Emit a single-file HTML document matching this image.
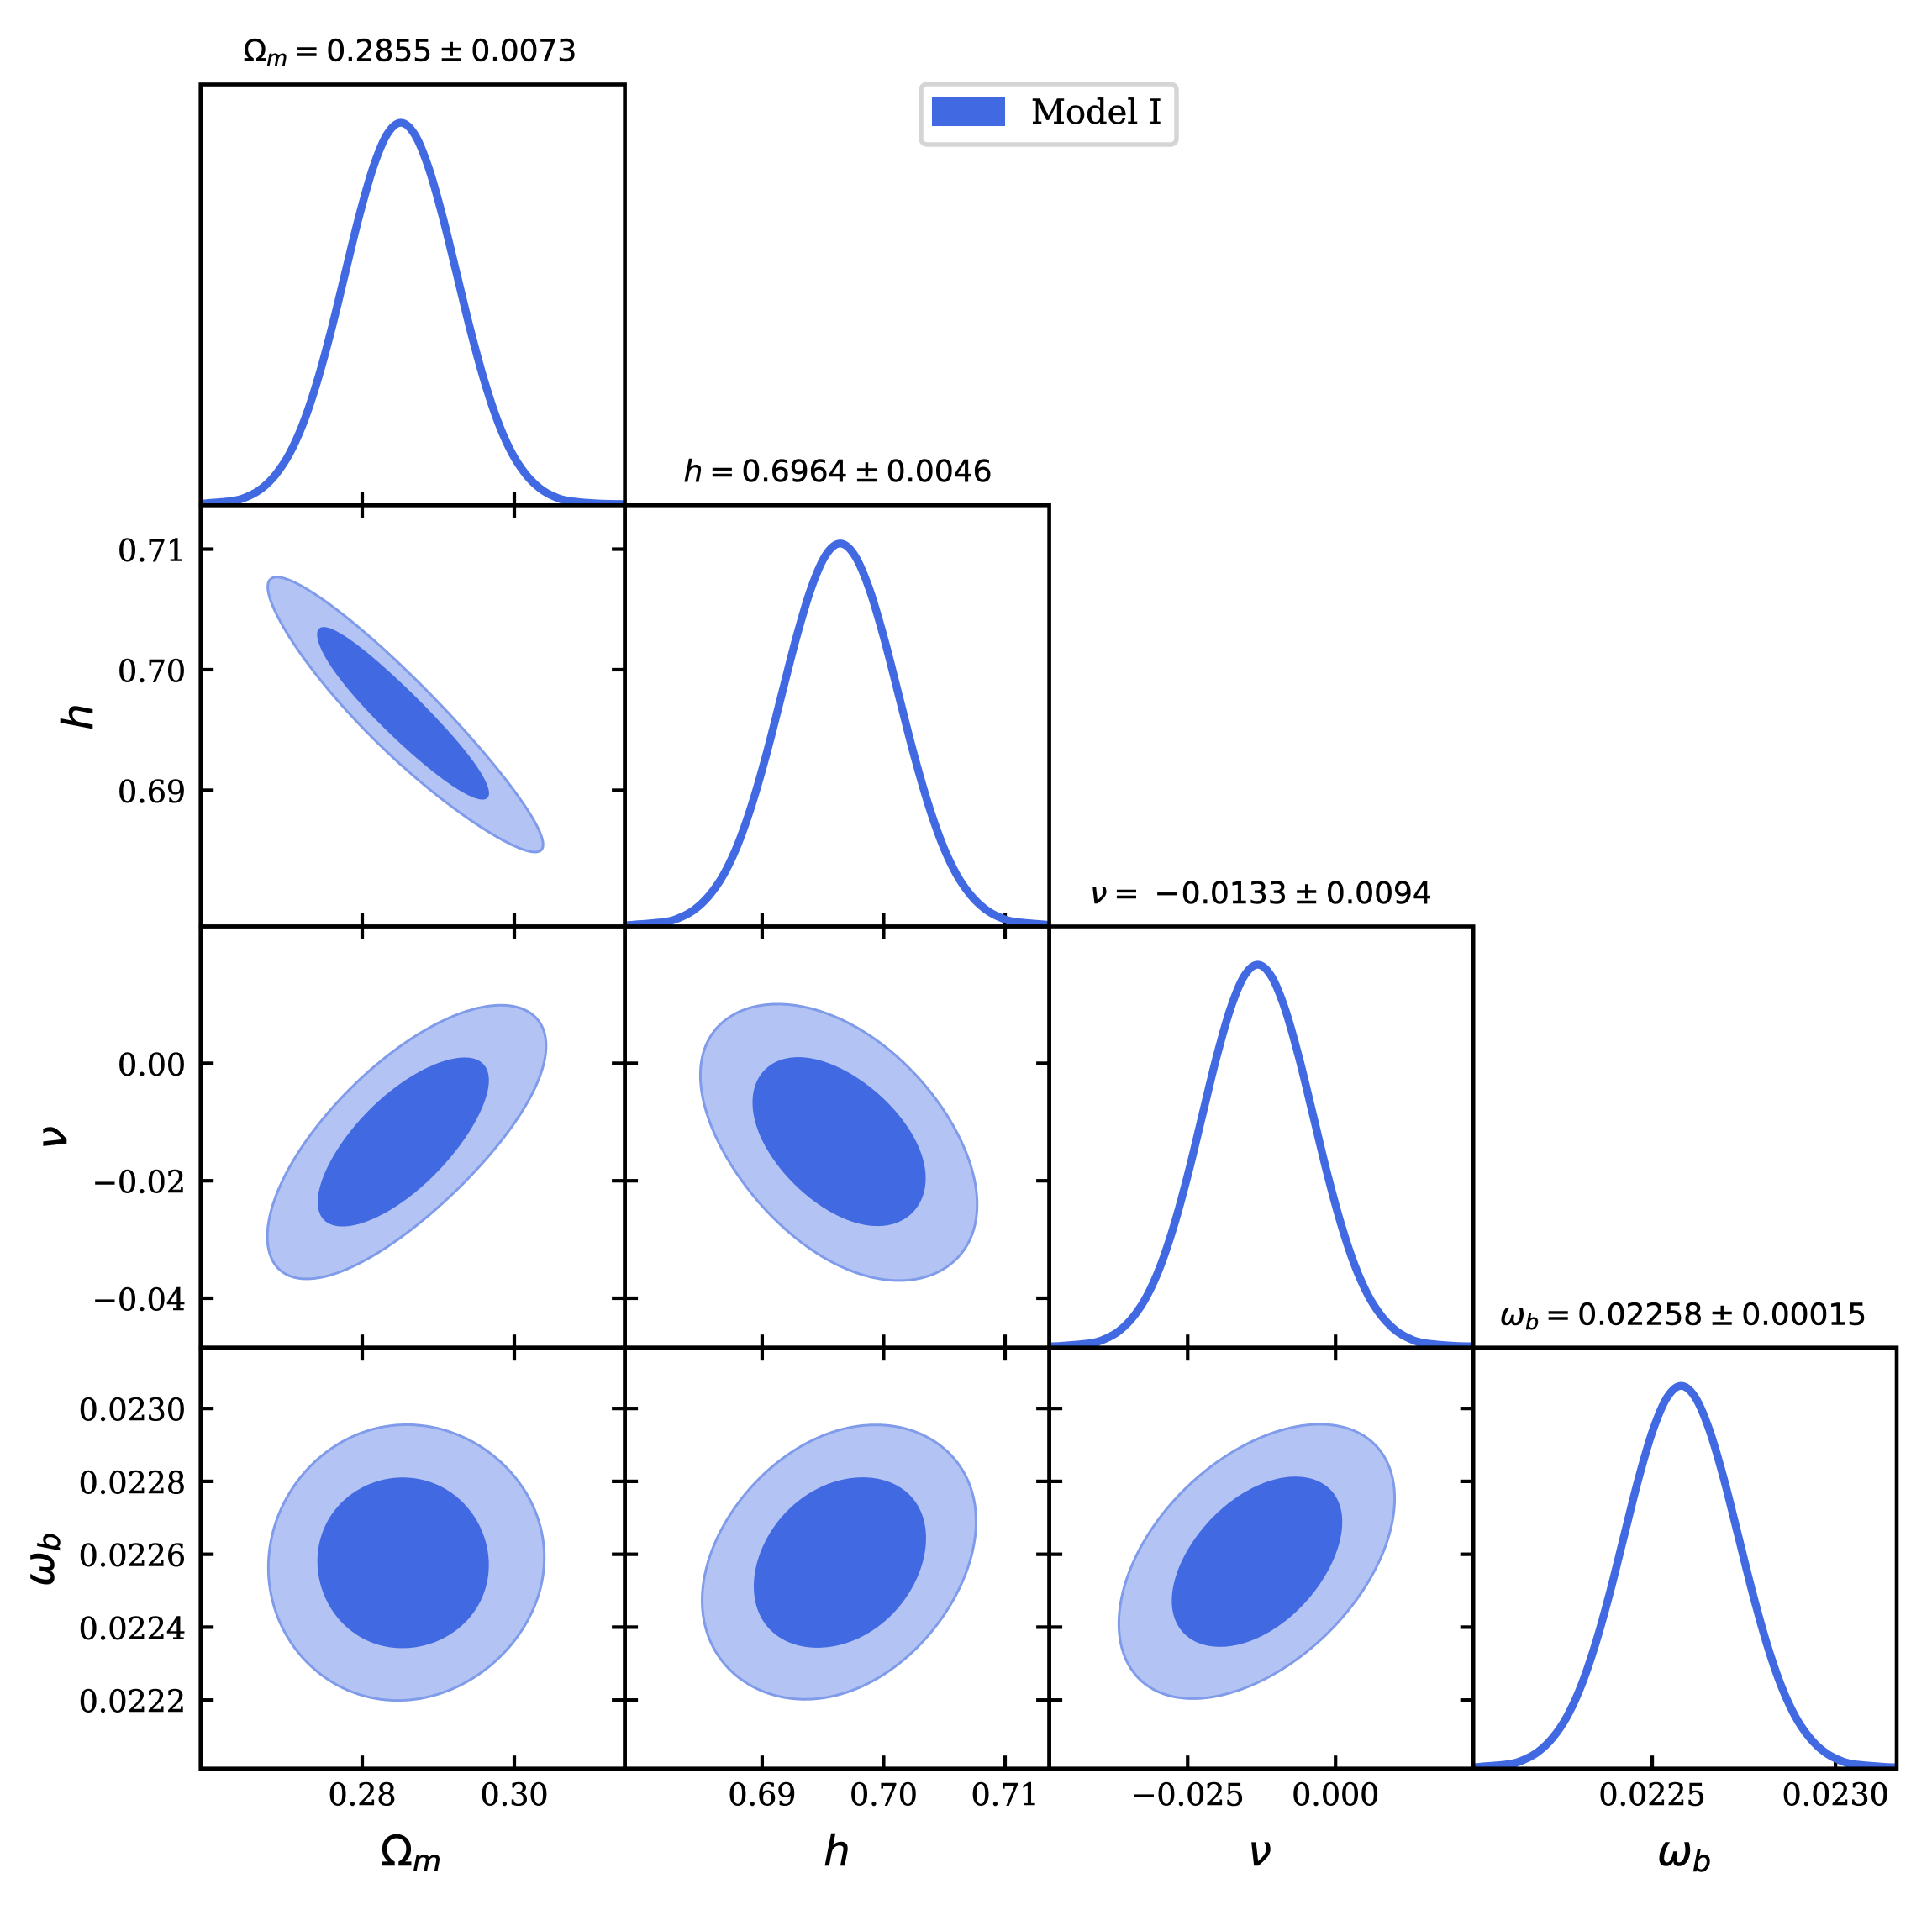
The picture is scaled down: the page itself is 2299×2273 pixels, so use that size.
<!DOCTYPE html>
<html lang="en">
<head>
<meta charset="utf-8">
<title>Triangle posterior plot, Model I</title>
<style>
html,body{margin:0;padding:0;background:#fff;}
svg{display:block;}
.tick{font-family:"DejaVu Serif","Liberation Serif",serif;font-size:36.4px;fill:#000;stroke:#000;stroke-width:.55px;}
.ttl{font-family:"DejaVu Sans","Liberation Sans",sans-serif;font-size:36px;fill:#000;stroke:#000;stroke-width:.5px;}
.ttl .s{font-size:25.5px;font-style:italic;}
.ttl .i{font-style:italic;}
.lab{font-family:"DejaVu Sans","Liberation Sans",sans-serif;font-size:50px;fill:#000;stroke:#000;stroke-width:.6px;}
.lab .i{font-style:italic;}
.lab .s{font-size:35px;font-style:italic;}
</style>
</head>
<body>
<svg id="chart" xmlns="http://www.w3.org/2000/svg" width="2299" height="2273" viewBox="0 0 2299 2273">
<rect x="0" y="0" width="2299" height="2273" fill="#ffffff"/>
<defs id="clips"></defs>
<g id="contours"></g>
<g id="ticks"></g>
<g id="curves"></g>
<g id="spines"></g>
<g id="ticklabels"></g>

<text class="ttl" x="488" y="72.5" text-anchor="middle">Ω<tspan class="s" dy="5.5">m</tspan><tspan dx="8" dy="-5.5">=</tspan><tspan dx="8">0.2855</tspan><tspan dx="8">±</tspan><tspan dx="8">0.0073</tspan></text>
<text class="ttl" x="997" y="573" text-anchor="middle"><tspan class="i">h</tspan><tspan dx="8">=</tspan><tspan dx="8">0.6964</tspan><tspan dx="8">±</tspan><tspan dx="8">0.0046</tspan></text>
<text class="ttl" x="1500.5" y="1075" text-anchor="middle"><tspan class="i">ν</tspan><tspan dx="8">=</tspan><tspan dx="18">−</tspan><tspan dx="2">0.0133</tspan><tspan dx="8">±</tspan><tspan dx="8">0.0094</tspan></text>
<text class="ttl" x="2003" y="1576.5" text-anchor="middle"><tspan class="i">ω</tspan><tspan class="s" dy="5.5">b</tspan><tspan dx="8" dy="-5.5">=</tspan><tspan dx="8">0.02258</tspan><tspan dx="8">±</tspan><tspan dx="8">0.00015</tspan></text>

<text class="lab" x="489" y="2220" text-anchor="middle">Ω<tspan class="s" dy="7">m</tspan></text>
<text class="lab" x="996" y="2220" text-anchor="middle"><tspan class="i">h</tspan></text>
<text class="lab" x="1499" y="2220" text-anchor="middle"><tspan class="i">ν</tspan></text>
<text class="lab" x="2004" y="2220" text-anchor="middle"><tspan class="i">ω</tspan><tspan class="s" dy="7">b</tspan></text>

<text class="lab" transform="translate(110,853) rotate(-90)" text-anchor="middle"><tspan class="i">h</tspan></text>
<text class="lab" transform="translate(79,1354) rotate(-90)" text-anchor="middle"><tspan class="i">ν</tspan></text>
<text class="lab" transform="translate(64,1856) rotate(-90)" text-anchor="middle"><tspan class="i">ω</tspan><tspan class="s" dy="7">b</tspan></text>

<g>
<rect x="1096" y="100" width="304" height="72" rx="7" ry="7" fill="#ffffff" stroke="#d5d5d5" stroke-width="5.5"/>
<rect x="1109" y="116" width="87" height="34" fill="#4169e1"/>
<text x="1227" y="147" font-family="'DejaVu Serif','Liberation Serif',serif" font-size="40" fill="#000" stroke="#000" stroke-width=".5">Model I</text>
</g>
</svg>

<script>
// ---- Parameter axis limits (data units) ----
const omegaMLimits = [0.25875, 0.31454];
const hLimits = [0.6787, 0.71364];
const nuLimits = [-0.0484, 0.0233];
const omegaBLimits = [0.022012, 0.023167];

// ---- Tick values and labels ----
const omegaMTicks = [0.28, 0.30];
const omegaMTickLabels = ['0.28', '0.30'];
const hTicks = [0.69, 0.70, 0.71];
const hTickLabels = ['0.69', '0.70', '0.71'];
const nuXTicks = [-0.025, 0];
const nuXTickLabels = ['\u22120.025', '0.000'];
const nuYTicks = [0, -0.02, -0.04];
const nuYTickLabels = ['0.00', '\u22120.02', '\u22120.04'];
const omegaBXTicks = [0.0225, 0.0230];
const omegaBXTickLabels = ['0.0225', '0.0230'];
const omegaBYTicks = [0.0230, 0.0228, 0.0226, 0.0224, 0.0222];
const omegaBYTickLabels = ['0.0230', '0.0228', '0.0226', '0.0224', '0.0222'];

// ---- 1D marginal densities ----
const omegaMGrid = [0.25946,0.26312,0.26495,0.26678,0.26861,0.27044,0.27227,0.2741,0.27593,0.27776,0.27959,0.28142,0.28325,0.28508,0.28691,0.28874,0.29057,0.2924,0.29423,0.29606,0.29789,0.29972,0.30155,0.30338,0.30521,0.30704,0.3107];
const omegaMDensity = [0.005,0.012,0.023,0.044,0.080,0.135,0.216,0.325,0.458,0.607,0.755,0.882,0.969,1,0.969,0.882,0.755,0.607,0.458,0.325,0.216,0.135,0.080,0.044,0.023,0.012,0.005];
const hGrid = [0.67962,0.68202,0.68322,0.68442,0.68562,0.68682,0.68802,0.68922,0.69042,0.69162,0.69282,0.69402,0.69522,0.69642,0.69762,0.69882,0.70002,0.70122,0.70242,0.70362,0.70482,0.70602,0.70722,0.70842,0.70962,0.71082,0.71322];
const hDensity = [0.005,0.012,0.023,0.044,0.080,0.135,0.216,0.325,0.458,0.607,0.755,0.882,0.969,1,0.969,0.882,0.755,0.607,0.458,0.325,0.216,0.135,0.080,0.044,0.023,0.012,0.005];
const nuGrid = [-0.04592,-0.04124,-0.0389,-0.03656,-0.03422,-0.03188,-0.02954,-0.0272,-0.02486,-0.02252,-0.02018,-0.01784,-0.0155,-0.01316,-0.01082,-0.00848,-0.00614,-0.0038,-0.00146,0.00088,0.00322,0.00556,0.0079,0.01024,0.01258,0.01492,0.0196];
const nuDensity = [0.005,0.012,0.023,0.044,0.080,0.135,0.216,0.325,0.458,0.607,0.755,0.882,0.969,1,0.969,0.882,0.755,0.607,0.458,0.325,0.216,0.135,0.080,0.044,0.023,0.012,0.005];
const omegaBGrid = [0.022033,0.022111,0.02215,0.022189,0.022228,0.022267,0.022306,0.022345,0.022384,0.022423,0.022462,0.022501,0.02254,0.022579,0.022618,0.022657,0.022696,0.022735,0.022774,0.022813,0.022852,0.022891,0.02293,0.022969,0.023008,0.023047,0.023125];
const omegaBDensity = [0.005,0.012,0.023,0.044,0.080,0.135,0.216,0.325,0.458,0.607,0.755,0.882,0.969,1,0.969,0.882,0.755,0.607,0.458,0.325,0.216,0.135,0.080,0.044,0.023,0.012,0.005];

// ---- 2D contours (data units) ----
const hVsOmegaMOuterX = [0.2677,0.2690,0.2718,0.2752,0.2803,0.2859,0.2915,0.2972,0.3017,0.3041,0.3037,0.3025,0.2994,0.2944,0.2887,0.2831,0.2775,0.2730,0.2696,0.2680];
const hVsOmegaMOuterY = [0.7068,0.7078,0.7071,0.7057,0.7031,0.6999,0.6962,0.6922,0.6884,0.6860,0.6852,0.6849,0.6856,0.6875,0.6902,0.6932,0.6968,0.7004,0.7037,0.7058];
const hVsOmegaMInnerX = [0.2741,0.2749,0.2769,0.2803,0.2848,0.2887,0.2927,0.2955,0.2968,0.2963,0.2949,0.2915,0.2876,0.2831,0.2792,0.2763,0.2747];
const hVsOmegaMInnerY = [0.7028,0.7035,0.7032,0.7016,0.6991,0.6966,0.6940,0.6915,0.6900,0.6893,0.6894,0.6905,0.6924,0.6951,0.6975,0.6999,0.7017];

const nuVsOmegaMOuterX = [0.2677,0.2685,0.2707,0.2741,0.2792,0.2848,0.2904,0.2949,0.2989,0.3023,0.3041,0.3041,0.3025,0.2994,0.2944,0.2887,0.2831,0.2775,0.2724,0.2690];
const nuVsOmegaMOuterY = [-0.0306,-0.0234,-0.0170,-0.0106,-0.0034,0.0030,0.0071,0.0091,0.0096,0.0085,0.0048,0.0012,-0.0052,-0.0115,-0.0188,-0.0256,-0.0315,-0.0356,-0.0367,-0.0352];
const nuVsOmegaMInnerX = [0.2743,0.2749,0.2775,0.2808,0.2848,0.2887,0.2927,0.2949,0.2968,0.2963,0.2935,0.2904,0.2865,0.2820,0.2775,0.2752,0.2744];
const nuVsOmegaMInnerY = [-0.0234,-0.0188,-0.0134,-0.0079,-0.0038,-0.0006,0.0009,0.0007,-0.0025,-0.0061,-0.0125,-0.0179,-0.0225,-0.0261,-0.0279,-0.0270,-0.0252];

const omegaBVsOmegaMOuterX = [0.2859,0.2915,0.2961,0.3006,0.3031,0.3041,0.3031,0.3000,0.2961,0.2910,0.2845,0.2786,0.2735,0.2699,0.2682,0.2676,0.2685,0.2713,0.2758,0.2803];
const omegaBVsOmegaMOuterY = [0.022956,0.022935,0.022886,0.022796,0.022702,0.022597,0.022481,0.022366,0.022282,0.022224,0.0222,0.022219,0.022287,0.022387,0.022481,0.022571,0.022681,0.022791,0.022891,0.022938];
const omegaBVsOmegaMInnerX = [0.2854,0.2893,0.2930,0.2955,0.2967,0.2958,0.2930,0.2893,0.2848,0.2808,0.2775,0.2752,0.2741,0.2749,0.2775,0.2811];
const omegaBVsOmegaMInnerY = [0.022809,0.022796,0.022749,0.02267,0.022581,0.022481,0.022403,0.022357,0.022343,0.022361,0.022408,0.022481,0.022571,0.02267,0.022744,0.022796];

const nuVsHOuterX = [0.6915,0.6945,0.6977,0.7010,0.7037,0.7060,0.7074,0.7077,0.7072,0.7056,0.7033,0.7014,0.6982,0.6945,0.6913,0.6881,0.6860,0.6850,0.6849,0.6858,0.6876];
const nuVsHOuterY = [0.00995,0.00908,0.00612,0.00153,-0.00459,-0.01173,-0.01837,-0.02296,-0.02908,-0.03418,-0.03648,-0.03689,-0.03597,-0.03265,-0.02704,-0.01888,-0.01173,-0.00612,-0.00102,0.00459,0.00842];
const nuVsHInnerX = [0.6931,0.6954,0.6982,0.7010,0.7028,0.7035,0.7030,0.7014,0.6995,0.6968,0.6941,0.6915,0.6899,0.6892,0.6897,0.6911];
const nuVsHInnerY = [0.00102,0.0001,-0.00306,-0.00816,-0.01378,-0.01888,-0.02347,-0.02679,-0.02781,-0.02653,-0.02321,-0.01786,-0.01276,-0.00663,-0.00255,0.00026];

const omegaBVsHOuterX = [0.6998,0.7023,0.7043,0.7062,0.7073,0.7077,0.7073,0.7062,0.7043,0.7018,0.6990,0.6963,0.6930,0.6903,0.6880,0.6861,0.6852,0.6850,0.6854,0.6866,0.6887,0.6912,0.6940,0.6970];
const omegaBVsHOuterY = [0.022955,0.022941,0.022906,0.022845,0.022768,0.022691,0.022606,0.022506,0.022406,0.022314,0.022248,0.022213,0.022203,0.022221,0.022267,0.022337,0.022414,0.022475,0.022568,0.02266,0.022768,0.022853,0.02291,0.022945];
const omegaBVsHInnerX = [0.6985,0.7004,0.7020,0.7031,0.7035,0.7032,0.7020,0.7002,0.6979,0.6960,0.6944,0.6923,0.6907,0.6897,0.6893,0.6897,0.6910,0.6930,0.6953,0.6970];
const omegaBVsHInnerY = [0.02281,0.0228,0.022768,0.022714,0.022645,0.022575,0.022491,0.022418,0.022367,0.022351,0.022344,0.022356,0.022391,0.022444,0.022514,0.022591,0.022675,0.022749,0.022791,0.022806];

const omegaBVsNuOuterX = [-0.00218,0.00185,0.00563,0.00848,0.00999,0.00919,0.00682,0.00279,-0.00289,-0.00857,-0.0152,-0.0242,-0.0294,-0.03319,-0.0358,-0.03665,-0.03603,-0.03366,-0.0294,-0.0242,-0.01804,-0.01236,-0.00715];
const omegaBVsNuOuterY = [0.022955,0.022947,0.022918,0.02286,0.02276,0.02266,0.02256,0.02246,0.02236,0.02229,0.022233,0.022203,0.022217,0.02226,0.022329,0.022398,0.022491,0.022598,0.022706,0.022799,0.022876,0.022922,0.022947];
const omegaBVsNuInnerX = [-0.00668,-0.00336,-0.00052,0.0009,0.00114,0.00043,-0.00194,-0.00573,-0.01046,-0.0152,-0.01993,-0.02372,-0.02633,-0.0276,-0.02775,-0.02704,-0.02467,-0.02041,-0.01567,-0.01094];
const omegaBVsNuInnerY = [0.022812,0.022803,0.022772,0.022729,0.022683,0.022622,0.022537,0.022456,0.022394,0.022357,0.022347,0.02236,0.022398,0.022444,0.022471,0.022537,0.022622,0.022706,0.022768,0.022803];

// ---- Layout and axis functions ----
const SVGNS = 'http://www.w3.org/2000/svg';
const colEdges = [238.7, 743.6, 1248.6, 1753.2, 2257];
const rowEdges = [100.5, 601.3, 1102.5, 1603.7, 2104.7];
const densityTop = 1.1;
const tickLen = 15.5;
const tickW = 4.2;
const spineW = 4.6;
const royal = '#4169e1';

const xLimits = [omegaMLimits, hLimits, nuLimits, omegaBLimits];
const xTickSets = [omegaMTicks, hTicks, nuXTicks, omegaBXTicks];
const xTickLabelSets = [omegaMTickLabels, hTickLabels, nuXTickLabels, omegaBXTickLabels];
const yTickSets = [null, hTicks, nuYTicks, omegaBYTicks];
const yTickLabelSets = [null, hTickLabels, nuYTickLabels, omegaBYTickLabels];

function xAxis(col, v) {
  const l = xLimits[col];
  return colEdges[col] + (v - l[0]) / (l[1] - l[0]) * (colEdges[col + 1] - colEdges[col]);
}
function yAxis(row, v) {
  const l = xLimits[row];
  return rowEdges[row + 1] - (v - l[0]) / (l[1] - l[0]) * (rowEdges[row + 1] - rowEdges[row]);
}
function yDensity(row, d) {
  return rowEdges[row + 1] - d / densityTop * (rowEdges[row + 1] - rowEdges[row]);
}
function make(tag, attrs, parent) {
  const el = document.createElementNS(SVGNS, tag);
  for (const k in attrs) el.setAttribute(k, attrs[k]);
  parent.appendChild(el);
  return el;
}
function fmt(n) { return n.toFixed(2); }
function openSpline(pts) {
  const n = pts.length;
  const at = function (i) { return pts[Math.max(0, Math.min(n - 1, i))]; };
  let d = 'M' + fmt(pts[0][0]) + ' ' + fmt(pts[0][1]);
  for (let i = 0; i < n - 1; i++) {
    const p0 = at(i - 1), p1 = at(i), p2 = at(i + 1), p3 = at(i + 2);
    const c1x = p1[0] + (p2[0] - p0[0]) / 6, c1y = p1[1] + (p2[1] - p0[1]) / 6;
    const c2x = p2[0] - (p3[0] - p1[0]) / 6, c2y = p2[1] - (p3[1] - p1[1]) / 6;
    d += 'C' + fmt(c1x) + ' ' + fmt(c1y) + ' ' + fmt(c2x) + ' ' + fmt(c2y) + ' ' + fmt(p2[0]) + ' ' + fmt(p2[1]);
  }
  return d;
}
// Closed contour through the read-off points: evens out reading noise by
// keeping only the low harmonics of the outline, parameterised in the
// outline's own covariance metric so elongated shapes keep their tips.
function contourPath(pts, harmonics) {
  const n = pts.length, dense = [];
  for (let i = 0; i < n; i++) {
    const p0 = pts[(i - 1 + n) % n], p1 = pts[i], p2 = pts[(i + 1) % n], p3 = pts[(i + 2) % n];
    for (let s = 0; s < 8; s++) {
      const t = s / 8, t2 = t * t, t3 = t2 * t;
      const q = [0, 1].map(function (a) {
        return 0.5 * (2 * p1[a] + (p2[a] - p0[a]) * t + (2 * p0[a] - 5 * p1[a] + 4 * p2[a] - p3[a]) * t2 + (3 * p1[a] - p0[a] - 3 * p2[a] + p3[a]) * t3);
      });
      dense.push(q);
    }
  }
  const m = dense.length;
  let mx = 0, my = 0;
  dense.forEach(function (p) { mx += p[0] / m; my += p[1] / m; });
  let sxx = 0, syy = 0, sxy = 0;
  dense.forEach(function (p) {
    sxx += (p[0] - mx) * (p[0] - mx) / m;
    syy += (p[1] - my) * (p[1] - my) / m;
    sxy += (p[0] - mx) * (p[1] - my) / m;
  });
  const det = sxx * syy - sxy * sxy;
  const metric = function (dx, dy) {
    return Math.sqrt(Math.max(0, (syy * dx * dx - 2 * sxy * dx * dy + sxx * dy * dy) / det));
  };
  const cum = [0];
  for (let i = 0; i < m; i++) {
    const a = dense[i], b = dense[(i + 1) % m];
    cum.push(cum[i] + metric(b[0] - a[0], b[1] - a[1]));
  }
  const total = cum[m], N = 360, xs = [], ys = [];
  let seg = 0;
  for (let i = 0; i < N; i++) {
    const target = total * i / N;
    while (cum[seg + 1] < target) seg++;
    const f = (target - cum[seg]) / Math.max(1e-9, cum[seg + 1] - cum[seg]);
    const a = dense[seg], b = dense[(seg + 1) % m];
    xs.push(a[0] + (b[0] - a[0]) * f);
    ys.push(a[1] + (b[1] - a[1]) * f);
  }
  const filter = function (sig) {
    const out = new Array(N).fill(0);
    for (let k = 0; k <= harmonics; k++) {
      let re = 0, im = 0;
      for (let i = 0; i < N; i++) {
        const w = 2 * Math.PI * k * i / N;
        re += sig[i] * Math.cos(w);
        im += sig[i] * Math.sin(w);
      }
      const scale = k === 0 ? 1 / N : 2 / N;
      for (let i = 0; i < N; i++) {
        const w = 2 * Math.PI * k * i / N;
        out[i] += scale * (re * Math.cos(w) + im * Math.sin(w));
      }
    }
    return out;
  };
  const fx = filter(xs), fy = filter(ys);
  let d = '';
  for (let i = 0; i < N; i++) d += (i ? 'L' : 'M') + fmt(fx[i]) + ' ' + fmt(fy[i]);
  return d + 'Z';
}

const clipsLayer = document.getElementById('clips');
const contourLayer = document.getElementById('contours');
const tickLayer = document.getElementById('ticks');
const curveLayer = document.getElementById('curves');
const spineLayer = document.getElementById('spines');
const labelLayer = document.getElementById('ticklabels');

// ---- Contours ----
function drawContour(col, row, xs, ys, outer) {
  const pts = xs.map(function (v, i) { return [xAxis(col, v), yAxis(row, ys[i])]; });
  const el = make('path', { d: contourPath(pts, 3) }, contourLayer);
  if (outer) {
    el.setAttribute('fill', '#b3c3f3');
    el.setAttribute('stroke', '#7f9bea');
    el.setAttribute('stroke-width', '3');
    
  } else {
    el.setAttribute('fill', royal);
    
  }
  
}
drawContour(0, 1, hVsOmegaMOuterX, hVsOmegaMOuterY, true);
drawContour(0, 1, hVsOmegaMInnerX, hVsOmegaMInnerY, false);
drawContour(0, 2, nuVsOmegaMOuterX, nuVsOmegaMOuterY, true);
drawContour(0, 2, nuVsOmegaMInnerX, nuVsOmegaMInnerY, false);
drawContour(0, 3, omegaBVsOmegaMOuterX, omegaBVsOmegaMOuterY, true);
drawContour(0, 3, omegaBVsOmegaMInnerX, omegaBVsOmegaMInnerY, false);
drawContour(1, 2, nuVsHOuterX, nuVsHOuterY, true);
drawContour(1, 2, nuVsHInnerX, nuVsHInnerY, false);
drawContour(1, 3, omegaBVsHOuterX, omegaBVsHOuterY, true);
drawContour(1, 3, omegaBVsHInnerX, omegaBVsHInnerY, false);
drawContour(2, 3, omegaBVsNuOuterX, omegaBVsNuOuterY, true);
drawContour(2, 3, omegaBVsNuInnerX, omegaBVsNuInnerY, false);

// ---- Ticks ----
function tickMark(x1, y1, x2, y2) {
  const el = make('line', { x1: x1, y1: y1, x2: x2, y2: y2, stroke: '#000', 'stroke-width': tickW }, tickLayer);
  
  
}
for (let row = 0; row < 4; row++) {
  for (let col = 0; col <= row; col++) {
    const top = rowEdges[row], bottom = rowEdges[row + 1];
    const left = colEdges[col], right = colEdges[col + 1];
    xTickSets[col].forEach(function (v) {
      const x = xAxis(col, v);
      tickMark(x, bottom, x, bottom - tickLen);
      if (col !== row) tickMark(x, top, x, top + tickLen);
    });
    if (col !== row) {
      yTickSets[row].forEach(function (v) {
        const y = yAxis(row, v);
        tickMark(left, y, left + tickLen, y);
        tickMark(right, y, right - tickLen, y);
      });
    }
  }
}

// ---- 1D density curves ----
function drawDensity(idx, grid, values) {
  const clip = make('clipPath', { id: 'clip-' + idx }, clipsLayer);
  make('rect', {
    x: colEdges[idx], y: rowEdges[idx],
    width: colEdges[idx + 1] - colEdges[idx],
    height: rowEdges[idx + 1] - rowEdges[idx]
  }, clip);
  const pts = grid.map(function (v, i) { return [xAxis(idx, v), yDensity(idx, values[i])]; });
  pts.unshift([colEdges[idx], yDensity(idx, values[0] * 0.6)]);
  pts.push([colEdges[idx + 1], yDensity(idx, values[values.length - 1] * 0.6)]);
  const el = make('path', {
    d: openSpline(pts), fill: 'none', stroke: royal, 'stroke-width': 9.4,
    'clip-path': 'url(#clip-' + idx + ')'
  }, curveLayer);
  
  
}
drawDensity(0, omegaMGrid, omegaMDensity);
drawDensity(1, hGrid, hDensity);
drawDensity(2, nuGrid, nuDensity);
drawDensity(3, omegaBGrid, omegaBDensity);

// ---- Spines ----
for (let row = 0; row < 4; row++) {
  for (let col = 0; col <= row; col++) {
    const el = make('rect', {
      x: colEdges[col], y: rowEdges[row],
      width: colEdges[col + 1] - colEdges[col],
      height: rowEdges[row + 1] - rowEdges[row],
      fill: 'none', stroke: '#000', 'stroke-width': spineW
    }, spineLayer);
    
    
  }
}

// ---- Tick labels ----
xTickSets.forEach(function (ticks, col) {
  ticks.forEach(function (v, i) {
    const el = make('text', { class: 'tick', x: xAxis(col, v), y: 2148.5, 'text-anchor': 'middle' }, labelLayer);
    el.textContent = xTickLabelSets[col][i];
    
    
  });
});
yTickSets.forEach(function (ticks, row) {
  if (!ticks) return;
  ticks.forEach(function (v, i) {
    const el = make('text', { class: 'tick', x: 221, y: yAxis(row, v) + 14.5, 'text-anchor': 'end' }, labelLayer);
    el.textContent = yTickLabelSets[row][i];
    
    
  });
});
</script>
</body>
</html>
